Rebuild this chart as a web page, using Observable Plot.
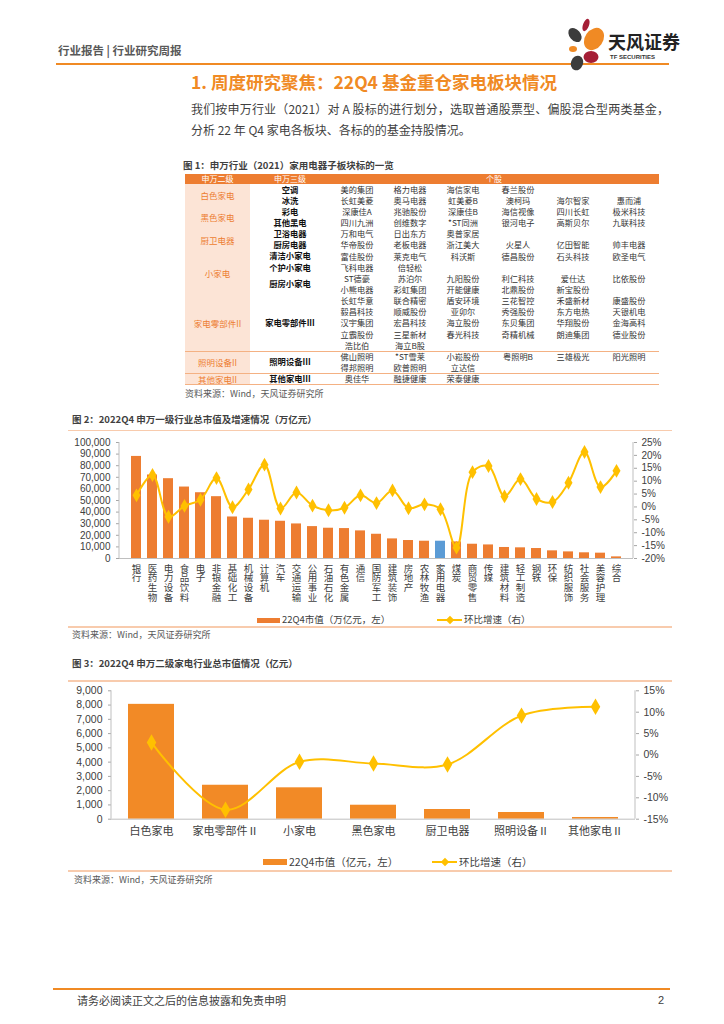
<!DOCTYPE html>
<html><head><meta charset="utf-8">
<script src="https://cdn.jsdelivr.net/npm/d3@7"></script>
<script src="https://cdn.jsdelivr.net/npm/@observablehq/plot@0.6"></script>
<style>
body{margin:0;background:#fff;}
#page{position:relative;width:724px;height:1024px;overflow:hidden;font-family:"Liberation Sans","Noto Sans CJK SC",sans-serif;color:#404040;background:#fff;}
.abs{position:absolute;white-space:nowrap;}
.rule{position:absolute;}
.chart{position:absolute;left:0;width:724px;}
.chart svg{position:absolute;left:0;top:0;}
</style></head><body><div id="page"></div>
<script>
// ---------- Figure 2 data ----------
const industries = ["银行","医药生物","电力设备","食品饮料","电子","非银金融","基础化工","机械设备","计算机","汽车","交通运输","公用事业","石油石化","有色金属","通信","国防军工","建筑装饰","房地产","农林牧渔","家用电器","煤炭","商贸零售","传媒","建筑材料","轻工制造","钢铁","环保","纺织服饰","社会服务","美容护理","综合"];
const marketCap = [88000,72000,68800,61600,56700,53300,35800,34700,33000,32100,29800,27500,26100,25800,23800,20900,16900,15500,14900,14900,14300,12300,11700,9500,9200,8600,6600,5700,4900,4600,1400];
const qoqGrowth = [4.5,12.4,-3.8,0.4,2.8,11.2,-0.1,6.8,16.4,-0.6,5.6,0.5,-1.3,-0.3,4.5,1.5,6.4,-0.5,1.0,-0.9,-15.8,13.5,15.9,4.1,10.8,3.1,1.9,9.4,21.3,7.7,14.0];
const highlightIndustry = "家用电器";
const fig2LeftTicks = [0,10000,20000,30000,40000,50000,60000,70000,80000,90000,100000];
const fig2RightTicks = [-20,-15,-10,-5,0,5,10,15,20,25];

// ---------- Figure 3 data ----------
const subSectors = ["白色家电","家电零部件Ⅱ","小家电","黑色家电","厨卫电器","照明设备Ⅱ","其他家电Ⅱ"];
const subCap = [8050,2380,2200,980,680,470,120];
const subQoq = [2.9,-12.8,-1.6,-2.0,-2.2,9.2,11.3];
const fig3LeftTicks = [0,1000,2000,3000,4000,5000,6000,7000,8000,9000];
const fig3RightTicks = [-15,-10,-5,0,5,10,15];

// ---------- Figure 1 table data ----------
const tableHeader = ["申万二级","申万三级","个股"];
const level2Groups = [["白色家电",2],["黑色家电",2],["厨卫电器",2],["小家电",4],["家电零部件II",5],["照明设备II",2],["其他家电II",1]];
const level3Groups = [["空调",1],["冰洗",1],["彩电",1],["其他黑电",1],["卫浴电器",1],["厨房电器",1],["清洁小家电",1],["个护小家电",1],["厨房小家电",2],["家电零部件III",5],["照明设备III",2],["其他家电III",1]];
const stockRows = [
 ["美的集团","格力电器","海信家电","春兰股份"],
 ["长虹美菱","奥马电器","虹美菱B","澳柯玛","海尔智家","惠而浦"],
 ["深康佳A","兆驰股份","深康佳B","海信视像","四川长虹","极米科技"],
 ["四川九洲","创维数字","*ST同洲","银河电子","高斯贝尔","九联科技"],
 ["万和电气","日出东方","奥普家居"],
 ["华帝股份","老板电器","浙江美大","火星人","亿田智能","帅丰电器"],
 ["富佳股份","莱克电气","科沃斯","德昌股份","石头科技","欧圣电气"],
 ["飞科电器","倍轻松"],
 ["ST德豪","苏泊尔","九阳股份","利仁科技","爱仕达","比依股份"],
 ["小熊电器","彩虹集团","开能健康","北鼎股份","新宝股份"],
 ["长虹华意","联合精密","盾安环境","三花智控","禾盛新材","康盛股份"],
 ["毅昌科技","顺威股份","亚卯尔","秀强股份","东方电热","天银机电"],
 ["汉宇集团","宏昌科技","海立股份","东贝集团","华翔股份","金海高科"],
 ["立霸股份","三星新材","春光科技","奇精机械","朗迪集团","德业股份"],
 ["浩比伯","海立B股"],
 ["佛山照明","*ST雪莱","小崧股份","粤照明B","三雄极光","阳光照明"],
 ["得邦照明","欧普照明","立达信"],
 ["奥佳华","融捷健康","荣泰健康"]
];

const FONT = '"Liberation Sans","Noto Sans CJK SC",sans-serif';
const CJK = '"Noto Sans CJK SC","Liberation Sans",sans-serif';
const page = document.getElementById("page");

function addText(str, x, y, size, style = {}, center = false) {
  const d = document.createElement("div");
  d.className = "abs";
  d.textContent = str;
  d.style.left = x + "px";
  d.style.top = (y - size * 0.6) + "px";
  d.style.fontSize = size + "px";
  d.style.lineHeight = (size * 1.2) + "px";
  if (center) d.style.transform = "translateX(-50%)";
  Object.assign(d.style, style);
  page.appendChild(d);
  return d;
}
function addRule(x1, x2, y, h, color) {
  const d = document.createElement("div");
  d.className = "rule";
  d.style.left = x1 + "px"; d.style.width = (x2 - x1) + "px";
  d.style.top = (y - h / 2) + "px"; d.style.height = h + "px";
  d.style.background = color;
  page.appendChild(d);
  return d;
}
function addBox(x, y, w, h, color) {
  const d = document.createElement("div");
  d.className = "rule";
  Object.assign(d.style, {left: x + "px", top: y + "px", width: w + "px", height: h + "px", background: color});
  page.appendChild(d);
  return d;
}

// ---------- Header ----------
addText("行业报告 | 行业研究周报", 58, 51, 11.5, {fontWeight: "bold", color: "#595959", fontFamily: CJK});
addRule(56, 669, 64, 2, "#F08A24");
const logo = document.createElement("div");
logo.className = "abs";
logo.style.left = "565px"; logo.style.top = "18px";
logo.innerHTML = `<svg width="44" height="54" viewBox="0 0 44 54">
 <ellipse cx="21" cy="7" rx="3" ry="6.5" transform="rotate(20 21 7)" fill="#A51E36"/>
 <ellipse cx="10" cy="17" rx="5.5" ry="8" transform="rotate(-40 10 17)" fill="#3c3c3c"/>
 <ellipse cx="29" cy="21" rx="9" ry="12" transform="rotate(35 29 21)" fill="#F08A24"/>
 <ellipse cx="8" cy="31" rx="4" ry="3" fill="#F08A24"/>
 <ellipse cx="26" cy="39" rx="7.5" ry="6" fill="#A51E36"/>
 <ellipse cx="12" cy="45" rx="6" ry="7.5" transform="rotate(20 12 45)" fill="#3c3c3c"/>
</svg>`;
page.appendChild(logo);
addText("天风证券", 608, 42, 18, {fontWeight: "bold", color: "#222", fontFamily: CJK});
addText("TF SECURITIES", 610, 58, 6, {fontWeight: "bold", color: "#333"});

// ---------- Title & paragraph ----------
addText("1. 周度研究聚焦：22Q4 基金重仓家电板块情况", 191, 81, 17.5, {fontWeight: "bold", color: "#F08A24", fontFamily: CJK});
addText("我们按申万行业（2021）对 A 股标的进行划分，选取普通股票型、偏股混合型两类基金，", 191, 109, 12, {color: "#3f3f3f", fontFamily: CJK, width: "478px", textAlign: "justify", textAlignLast: "justify"});
addText("分析 22 年 Q4 家电各板块、各标的的基金持股情况。", 191, 130, 12, {color: "#3f3f3f", fontFamily: CJK});

// ---------- Figure 1 table ----------
addText("图 1：申万行业（2021）家用电器子板块标的一览", 183, 166, 9.5, {fontWeight: "bold", color: "#3f3f3f", fontFamily: CJK});
const TL = 185, TR = 659, headTop = 174, headH = 10, rowTop = 184, rowH = 11.15;
const nRows = stockRows.length;
addBox(TL, headTop, TR - TL, headH, "#ED7D31");
addText(tableHeader[0], 217.5, headTop + headH / 2, 8, {color: "#fff", fontFamily: CJK}, true);
addText(tableHeader[1], 290, headTop + headH / 2, 8, {color: "#fff", fontFamily: CJK}, true);
addText(tableHeader[2], 494, headTop + headH / 2, 8, {color: "#fff", fontFamily: CJK}, true);
addBox(TL, rowTop, 250 - TL, nRows * rowH, "#FCE4D6");
[15, 17, 18].forEach(r => addRule(TL, TR, rowTop + r * rowH, 1.5, "#F4B183"));
let r0 = 0;
level2Groups.forEach(([name, span]) => {
  addText(name, 217.5, rowTop + (r0 + span / 2) * rowH, 8.5, {color: "#ED7D31", fontFamily: CJK}, true);
  r0 += span;
});
r0 = 0;
level3Groups.forEach(([name, span]) => {
  addText(name, 290, rowTop + (r0 + span / 2) * rowH, 8.3, {color: "#111", fontWeight: "bold", fontFamily: CJK}, true);
  r0 += span;
});
const stockCols = [357, 410, 463, 518, 573, 629];
stockRows.forEach((row, i) => {
  row.forEach((s, j) => addText(s, stockCols[j], rowTop + (i + 0.5) * rowH, 8.2, {color: "#333", fontFamily: CJK}, true));
});
addText("资料来源：Wind，天风证券研究所", 185, 394, 9, {color: "#595959", fontFamily: CJK});

// ---------- Dual-axis chart builder ----------
function dualChart(cfg) {
  const rows = cfg.cats.map((c, i) => ({cat: c, v: cfg.values[i], g: cfg.growth[i]}));
  const common = {
    width: 724, height: cfg.height,
    marginLeft: cfg.ml, marginRight: cfg.mr, marginTop: cfg.mt, marginBottom: cfg.mb,
    style: {background: "transparent", fontFamily: FONT, fontSize: cfg.tickFont + "px", color: "#404040", overflow: "visible"}
  };
  const xOpt = {type: "band", domain: cfg.cats, paddingInner: cfg.pin, paddingOuter: cfg.pout, axis: null};
  const barPlot = Plot.plot({
    ...common,
    x: xOpt,
    y: {domain: cfg.leftDomain, axis: null, label: null},
    color: {type: "identity"},
    marks: [
      Plot.axisY(cfg.leftTicks, {anchor: "left", label: null, tickSize: 3, tickPadding: cfg.tickPadL, tickFormat: d3.format(","), stroke: "#a6a6a6", fill: "#404040"}),
      Plot.barY(rows, {x: "cat", y: "v", fill: cfg.fill}),
      Plot.ruleY([0], {stroke: "#bfbfbf"}),
      Plot.text(rows, {x: "cat", text: "cat", frameAnchor: "bottom", lineAnchor: "top", dy: cfg.labelDy, fontSize: cfg.labelFont, fill: "#404040", fontFamily: CJK})
    ]
  });
  if (cfg.vertical) {
    // stacked (vertical) category labels, read top to bottom
    const g = d3.select(barPlot).selectAll('g[aria-label="text"]');
    g.attr("text-anchor", "start");
    g.selectAll("text").attr("dy", null)
      .style("writing-mode", "vertical-rl")
      .style("text-orientation", "upright")
      .style("letter-spacing", cfg.letterSpacing + "px");
  }
  const linePlot = Plot.plot({
    ...common,
    x: xOpt,
    y: {domain: cfg.rightDomain, axis: null, label: null},
    marks: [
      Plot.axisY(cfg.rightTicks, {anchor: "right", label: null, tickSize: 3, tickPadding: cfg.tickPadR, tickFormat: d => d + "%", stroke: "#a6a6a6", fill: "#404040"}),
      Plot.line(rows, {x: "cat", y: "g", curve: "catmull-rom", stroke: "#FFC000", strokeWidth: cfg.lw}),
      Plot.dot(rows, {x: "cat", y: "g", symbol: "diamond", fill: "#FFC000", r: cfg.r})
    ]
  });
  const y1 = cfg.mt, y2 = cfg.height - cfg.mb;
  d3.select(barPlot).append("line").attr("x1", cfg.ml).attr("x2", cfg.ml).attr("y1", y1).attr("y2", y2).attr("stroke", "#bfbfbf");
  d3.select(linePlot).append("line").attr("x1", 724 - cfg.mr).attr("x2", 724 - cfg.mr).attr("y1", y1).attr("y2", y2).attr("stroke", "#bfbfbf");
  const box = document.createElement("div");
  box.className = "chart";
  box.style.top = cfg.top + "px";
  box.style.height = cfg.height + "px";
  box.appendChild(barPlot);
  box.appendChild(linePlot);
  page.appendChild(box);
}

function legend(y, barX, barW, barH, barColor, barLabel, lineX, lineW, lineLabel, size) {
  addBox(barX, y - barH / 2, barW, barH, barColor);
  addText(barLabel, barX + barW + 2, y, size, {color: "#404040", fontFamily: CJK});
  addRule(lineX, lineX + lineW, y, 2, "#FFC000");
  const dm = addBox(lineX + lineW / 2 - 3, y - 3, 6, 6, "#FFC000");
  dm.style.transform = "rotate(45deg)";
  addText(lineLabel, lineX + lineW + 2, y, size, {color: "#404040", fontFamily: CJK});
}

// ---------- Figure 2 ----------
addText("图 2：2022Q4 申万一级行业总市值及增速情况（万亿元）", 72, 420, 9.5, {fontWeight: "bold", color: "#3f3f3f", fontFamily: CJK});
addRule(68, 672, 430.5, 1.5, "#F8CBAD");
dualChart({
  top: 432, height: 190, mt: 10, mb: 64, ml: 119, mr: 91,
  cats: industries, values: marketCap, growth: qoqGrowth,
  pin: 0.4, pout: 0.3,
  leftDomain: [0, 100000], rightDomain: [-20, 25],
  leftTicks: fig2LeftTicks, rightTicks: fig2RightTicks,
  tickFont: 10, tickPadL: 6, tickPadR: 5,
  fill: d => d.cat === highlightIndustry ? "#5B9BD5" : "#ED7D31",
  vertical: true, letterSpacing: 0.3, labelDy: -2, labelFont: 9.5,
  lw: 2, r: 4.2
});
legend(620, 257, 23, 5, "#ED7D31", "22Q4市值（万亿元，左）", 437, 25, "环比增速（右）", 9.5);
addRule(68, 672, 627, 1.5, "#F8CBAD");
addText("资料来源：Wind，天风证券研究所", 72, 635, 9, {color: "#595959", fontFamily: CJK});

// ---------- Figure 3 ----------
addText("图 3：2022Q4 申万二级家电行业总市值情况（亿元）", 72, 664, 9.5, {fontWeight: "bold", color: "#3f3f3f", fontFamily: CJK});
addRule(68, 672, 681, 1.5, "#F8CBAD");
dualChart({
  top: 682, height: 165, mt: 8.3, mb: 28.3, ml: 111, mr: 89,
  cats: subSectors, values: subCap, growth: subQoq,
  pin: 0.373, pout: 0.187,
  leftDomain: [0, 9000], rightDomain: [-15, 15],
  leftTicks: fig3LeftTicks, rightTicks: fig3RightTicks,
  tickFont: 10.5, tickPadL: 6, tickPadR: 5,
  fill: () => "#F28A26",
  vertical: false, labelDy: 8, labelFont: 11,
  lw: 2, r: 5
});
legend(862, 263, 24, 6, "#F28A26", "22Q4市值（亿元，左）", 432, 25, "环比增速（右）", 10.5);
addRule(68, 672, 871, 1.5, "#F8CBAD");
addText("资料来源：Wind，天风证券研究所", 74, 880, 9, {color: "#595959", fontFamily: CJK});

// ---------- Footer ----------
addRule(53, 670, 989, 2, "#F08A24");
addText("请务必阅读正文之后的信息披露和免责申明", 77, 1001, 11, {color: "#404040", fontFamily: CJK});
addText("2", 658, 1001, 11, {color: "#404040"});
</script></body></html>
